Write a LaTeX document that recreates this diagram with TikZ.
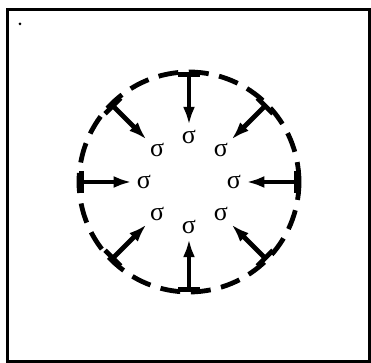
\documentclass[tikz,border=0pt]{standalone}
\usepackage{fontspec}
\setmainfont{Liberation Serif}
\usepackage{tikz}
\usetikzlibrary{arrows.meta}
\begin{document}
\begin{tikzpicture}[x=0.5pt, y=0.5pt, font=\fontsize{13}{15}\selectfont,
  rim/.style={line width=2.4pt, dash pattern=on 10pt off 5.3pt},
  arr/.style={{Bar[width=11pt]}-{Latex[length=9pt,width=6pt]}, line width=2.4pt,
              shorten >=2.5pt},
  lab/.style={inner sep=0pt}]
\useasboundingbox (-189,-181) rectangle (182,182);
\draw[line width=1.3pt] (-181.5,-179.5) rectangle (180.5,172.5);
\fill (-169,158) circle (1.5);
\coordinate (c) at (0,0);
\draw[rim] (c) circle (110);
\foreach \i in {0,...,7} {
  \node[lab] (s\i) at (\i*45:45) {σ};
  \coordinate (b\i) at (\i*45:110);
  \draw[arr] (b\i) -- (s\i);
}
\end{tikzpicture}
\end{document}
